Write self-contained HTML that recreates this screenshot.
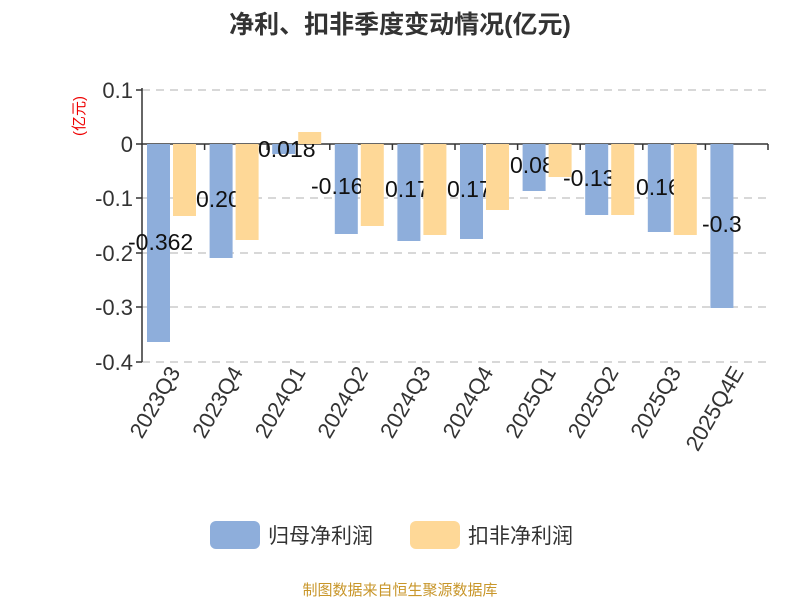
<!DOCTYPE html>
<html><head><meta charset="utf-8"><style>body{margin:0;background:#fff}svg{display:block}</style></head><body>
<svg width="800" height="600" xmlns="http://www.w3.org/2000/svg" font-family="Liberation Sans, Noto Sans CJK SC, sans-serif">
<text x="400" y="33" text-anchor="middle" font-size="25" font-weight="bold" fill="#333">净利、扣非季度变动情况(亿元)</text>
<text transform="translate(84,116) rotate(-90)" text-anchor="middle" font-size="15" fill="#e00">(亿元)</text>
<g stroke="#ccc" stroke-dasharray="8,6" stroke-width="1.5">
<line x1="142" y1="90" x2="768" y2="90"/><line x1="142" y1="198" x2="768" y2="198"/><line x1="142" y1="253" x2="768" y2="253"/><line x1="142" y1="307" x2="768" y2="307"/><line x1="142" y1="362" x2="768" y2="362"/>
</g>
<g font-size="22" fill="#333" text-anchor="end">
<text x="133" y="98">0.1</text><text x="133" y="152">0</text><text x="133" y="206">-0.1</text><text x="133" y="261">-0.2</text><text x="133" y="315">-0.3</text><text x="133" y="370">-0.4</text>
</g>
<g stroke="#333" stroke-width="1.5">
<line x1="142" y1="88" x2="142" y2="362"/>
<line x1="136" y1="90" x2="142" y2="90"/><line x1="136" y1="144" x2="142" y2="144"/><line x1="136" y1="198" x2="142" y2="198"/><line x1="136" y1="253" x2="142" y2="253"/><line x1="136" y1="307" x2="142" y2="307"/><line x1="136" y1="362" x2="142" y2="362"/>
<line x1="142" y1="144" x2="768" y2="144"/>
<line x1="204.6" y1="144" x2="204.6" y2="150"/><line x1="267.2" y1="144" x2="267.2" y2="150"/><line x1="329.8" y1="144" x2="329.8" y2="150"/><line x1="392.4" y1="144" x2="392.4" y2="150"/><line x1="455" y1="144" x2="455" y2="150"/><line x1="517.6" y1="144" x2="517.6" y2="150"/><line x1="580.2" y1="144" x2="580.2" y2="150"/><line x1="642.8" y1="144" x2="642.8" y2="150"/><line x1="705.4" y1="144" x2="705.4" y2="150"/><line x1="768" y1="144" x2="768" y2="150"/>
</g>
<g fill="#8eaedb">
<rect x="147" y="144" width="23" height="198"/><rect x="209.6" y="144" width="23" height="114"/><rect x="272.2" y="144" width="23" height="10"/><rect x="334.8" y="144" width="23" height="90"/><rect x="397.4" y="144" width="23" height="97"/><rect x="460" y="144" width="23" height="95"/><rect x="522.6" y="144" width="23" height="47"/><rect x="585.2" y="144" width="23" height="71"/><rect x="647.8" y="144" width="23" height="88"/><rect x="710.4" y="144" width="23" height="164"/>
</g>
<g font-size="23" fill="#111">
<text x="128" y="250">-0.362</text><text x="196" y="207">0.20</text><text x="258" y="157">0.018</text><text x="311" y="194">-0.16</text><text x="385" y="197">0.17</text><text x="447" y="197">0.17</text><text x="510" y="173">0.08</text><text x="563" y="186">-0.13</text><text x="636" y="195">0.16</text><text x="702" y="232">-0.3</text>
</g>
<g fill="#fed897">
<rect x="173" y="144" width="23" height="72"/><rect x="235.6" y="144" width="23" height="96"/><rect x="298.2" y="132" width="23" height="12"/><rect x="360.8" y="144" width="23" height="82"/><rect x="423.4" y="144" width="23" height="91"/><rect x="486" y="144" width="23" height="66"/><rect x="548.6" y="144" width="23" height="33"/><rect x="611.2" y="144" width="23" height="71"/><rect x="673.8" y="144" width="23" height="91"/>
</g>
<g font-size="22" fill="#333" text-anchor="end">
<text transform="translate(181,372) rotate(-60)">2023Q3</text>
<text transform="translate(243.6,372) rotate(-60)">2023Q4</text>
<text transform="translate(306.2,372) rotate(-60)">2024Q1</text>
<text transform="translate(368.8,372) rotate(-60)">2024Q2</text>
<text transform="translate(431.4,372) rotate(-60)">2024Q3</text>
<text transform="translate(494,372) rotate(-60)">2024Q4</text>
<text transform="translate(556.6,372) rotate(-60)">2025Q1</text>
<text transform="translate(619.2,372) rotate(-60)">2025Q2</text>
<text transform="translate(681.8,372) rotate(-60)">2025Q3</text>
<text transform="translate(744.4,372) rotate(-60)">2025Q4E</text>
</g>
<rect x="210" y="521" width="50" height="28" rx="6" fill="#8eaedb"/>
<text x="268" y="543" font-size="21" fill="#333">归母净利润</text>
<rect x="410" y="521" width="50" height="28" rx="6" fill="#fed897"/>
<text x="468" y="543" font-size="21" fill="#333">扣非净利润</text>
<text x="400" y="595" text-anchor="middle" font-size="15" fill="#c8962a">制图数据来自恒生聚源数据库</text>
</svg>
</body></html>
